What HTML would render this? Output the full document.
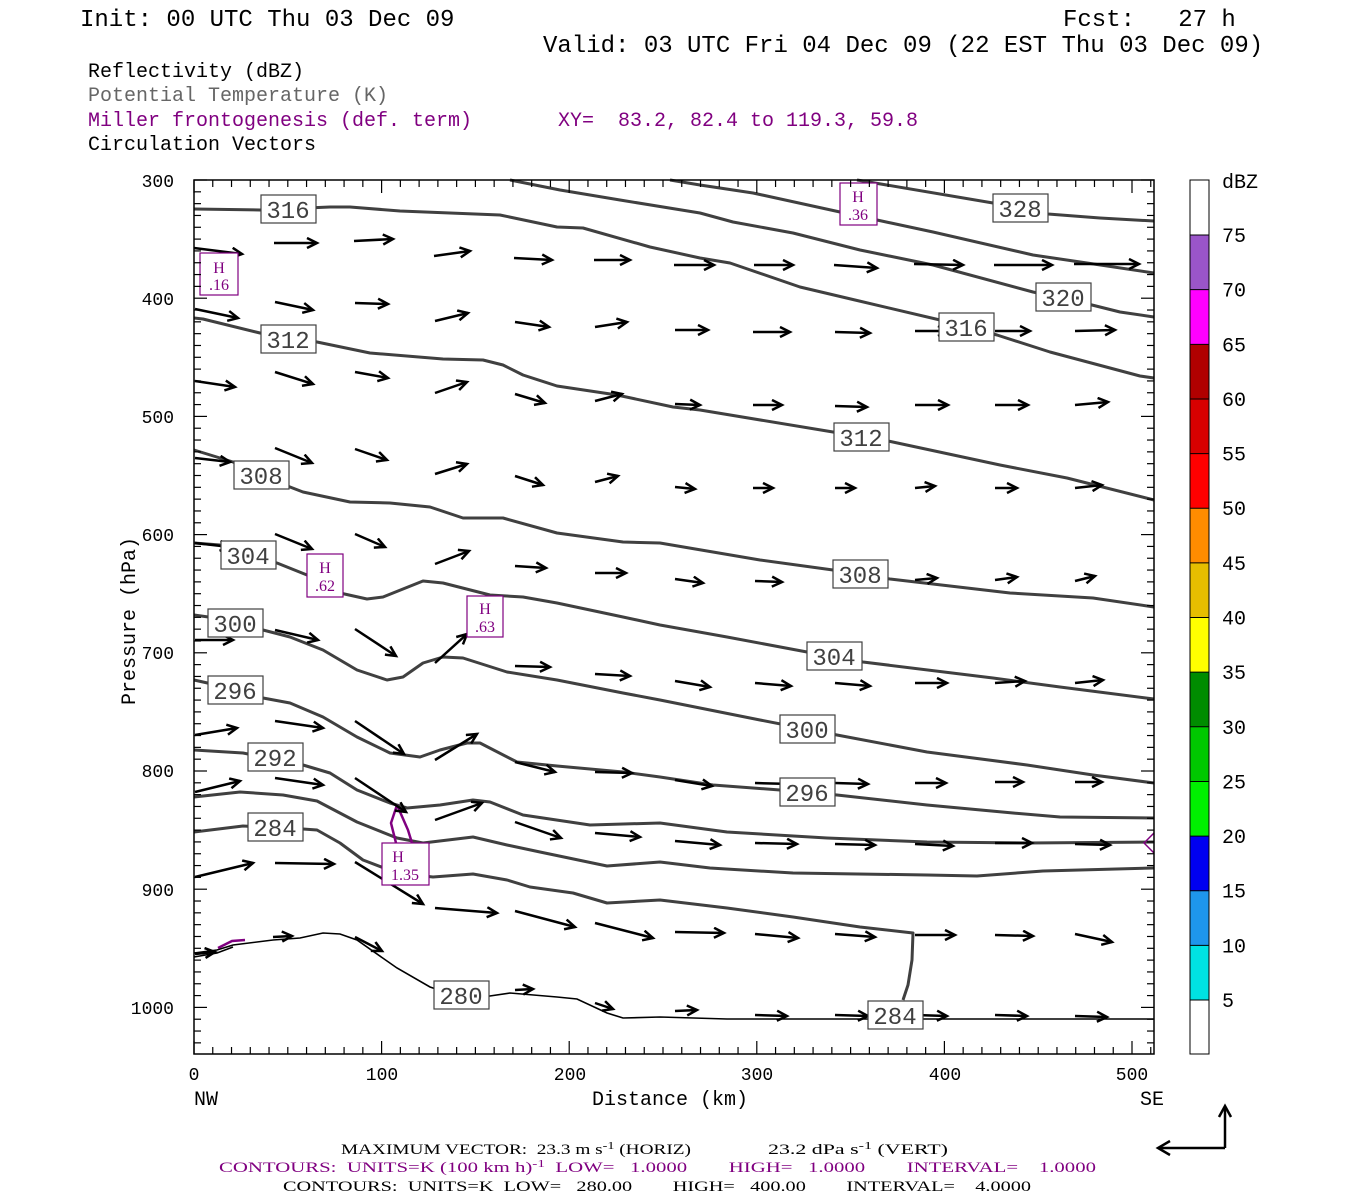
<!DOCTYPE html>
<html><head><meta charset="utf-8">
<style>
html,body{margin:0;padding:0;background:#fff;}
svg{display:block;}
text{white-space:pre;}
.mono{font-family:"Liberation Mono",monospace;}
.serif{font-family:"Liberation Serif",serif;}
</style></head>
<body>
<svg id="s" width="1350" height="1200" viewBox="0 0 1350 1200" xmlns="http://www.w3.org/2000/svg" xml:space="preserve">
<defs>
<marker id="ah" markerWidth="14" markerHeight="14" refX="11" refY="6" orient="auto" markerUnits="userSpaceOnUse">
<polyline points="1,1 11,6 1,11" fill="none" stroke="#000" stroke-width="2.5"/>
</marker>
</defs>
<rect width="1350" height="1200" fill="#fff"/>
<g class="mono" font-size="24" fill="#000">
<text x="80" y="26">Init: 00 UTC Thu 03 Dec 09</text>
<text x="1063" y="26">Fcst:   27 h</text>
<text x="543" y="52">Valid: 03 UTC Fri 04 Dec 09 (22 EST Thu 03 Dec 09)</text>
</g>
<g class="mono" font-size="20">
<text x="88" y="77" fill="#000">Reflectivity (dBZ)</text>
<text x="88" y="101" fill="#666">Potential Temperature (K)</text>
<text x="88" y="126" fill="#800080">Miller frontogenesis (def. term)</text>
<text x="558" y="126" fill="#800080">XY=  83.2, 82.4 to 119.3, 59.8</text>
<text x="88" y="150" fill="#000">Circulation Vectors</text>
</g>

<g id="contours" fill="none" stroke="#404040" stroke-width="3" stroke-linejoin="round">
<polyline points="857,180 993,203 1048,214 1100,218 1154,221"/>
<polyline points="670,180 700,185 753,193 840,212 877,220 933,232 1033,255 1087,263 1154,273"/>
<polyline points="510,180 560,190 620,200 700,213 733,222 793,233 860,250 933,265 1033,292 1092,305 1120,312 1154,317"/>
<polyline points="194,209 260,210 330,207 350,207 400,211 450,213 500,215 557,227 583,228 650,247 700,258 730,263 800,287 855,300 940,320 997,335 1050,352 1110,368 1140,376 1154,378"/>
<polyline points="194,318 203,319 260,333 317,342 370,353 443,359 483,360 503,365 523,375 557,386 617,395 673,407 700,410 833,432 888,441 1000,465 1067,478 1154,500"/>
<polyline points="194,450 233,462 290,487 303,492 350,502 390,503 430,507 463,518 503,518 557,533 623,542 660,543 760,560 833,570 890,579 1010,593 1093,598 1154,607"/>
<polyline points="194,543 220,545 277,563 307,575 340,593 367,599 383,597 423,581 443,583 490,595 523,597 557,603 623,617 660,625 727,637 807,652 863,662 993,678 1060,687 1154,699"/>
<polyline points="194,615 230,620 263,630 290,637 323,650 357,670 387,680 403,677 423,663 443,657 463,658 507,672 557,680 623,693 660,700 760,720 837,735 927,752 1027,765 1093,775 1154,783"/>
<polyline points="194,680 230,688 263,698 290,703 323,717 357,737 390,753 420,757 440,750 467,743 480,743 517,762 557,766 623,772 660,777 713,785 780,790 837,795 927,805 1013,813 1060,817 1154,818"/>
<polyline points="194,750 243,753 303,765 330,773 357,790 390,803 407,808 440,805 473,800 490,802 523,815 590,825 660,823 727,832 827,838 927,842 1027,843 1154,842"/>
<polyline points="194,797 240,792 283,795 317,801 357,822 397,838 423,843 473,837 507,845 540,852 607,866 660,862 710,868 793,873 927,875 977,876 1043,871 1154,868"/>
<polyline points="194,832 243,826 303,829 317,830 340,843 363,860 397,873 433,877 473,874 507,880 530,887 573,893 607,903 660,900 727,908 793,917 860,927 913,933 912,960 908,985 903,1000"/>
</g>
<g fill="none" stroke="#000" stroke-width="1.6">
<polyline points="194,953 217,950 233,945 273,940 300,938 323,933 340,934 357,940 397,968 430,987 460,997 483,997 510,993 557,997 577,999 607,1013 623,1018 660,1017 727,1019 1154,1019"/>
<polyline points="194,957 217,953 233,947"/>
</g>
<g fill="none" stroke="#800080" stroke-width="2.5">
<polyline points="397,805 391,823 396,843"/>
<polyline points="397,805 408,830 412,843"/>
<polyline points="218,948 232,941 245,940"/>
<polyline points="1154,833 1144,843 1154,853" stroke-width="1.5"/>
</g>

<g id="arrows" fill="none" stroke="#000" stroke-width="2.5" marker-end="url(#ah)"></g>

<g id="labels" class="mono" font-size="24" fill="#404040"></g>
<g class="serif" fill="#800080" stroke="none">
<rect x="200" y="253" width="38" height="42" fill="#fff" stroke="#800080" stroke-width="1.2"/>
<text x="219" y="273" font-size="16" text-anchor="middle">H</text><text x="219" y="290" font-size="16" text-anchor="middle">.16</text>
<rect x="840" y="183" width="37" height="42" fill="#fff" stroke="#800080" stroke-width="1.2"/>
<text x="858" y="202" font-size="16" text-anchor="middle">H</text><text x="858" y="220" font-size="16" text-anchor="middle">.36</text>
<rect x="307" y="554" width="36" height="43" fill="#fff" stroke="#800080" stroke-width="1.2"/>
<text x="325" y="573" font-size="16" text-anchor="middle">H</text><text x="325" y="591" font-size="16" text-anchor="middle">.62</text>
<rect x="467" y="596" width="36" height="41" fill="#fff" stroke="#800080" stroke-width="1.2"/>
<text x="485" y="614" font-size="16" text-anchor="middle">H</text><text x="485" y="632" font-size="16" text-anchor="middle">.63</text>
<rect x="382" y="843" width="47" height="42" fill="#fff" stroke="#800080" stroke-width="1.2"/>
<text x="398" y="862" font-size="16" text-anchor="middle">H</text><text x="405" y="880" font-size="16" text-anchor="middle">1.35</text>
</g>

<rect x="194" y="180" width="960" height="874" fill="none" stroke="#000" stroke-width="1.5"/>
<g id="ticks" stroke="#000" stroke-width="1.2"></g>
<g class="mono" font-size="18" fill="#000" text-anchor="end">
<text x="174" y="187">300</text><text x="174" y="305">400</text><text x="174" y="423">500</text>
<text x="174" y="541">600</text><text x="174" y="659">700</text><text x="174" y="777">800</text>
<text x="174" y="896">900</text><text x="174" y="1014">1000</text>
</g>
<g class="mono" font-size="18" fill="#000" text-anchor="middle">
<text x="194" y="1080">0</text><text x="382" y="1080">100</text><text x="570" y="1080">200</text>
<text x="757" y="1080">300</text><text x="945" y="1080">400</text><text x="1132" y="1080">500</text>
</g>
<g class="mono" font-size="20" fill="#000">
<text x="194" y="1105">NW</text><text x="1140" y="1105">SE</text>
<text x="592" y="1105">Distance (km)</text>
<text transform="translate(135,705) rotate(-90)">Pressure (hPa)</text>
</g>

<g id="cbar"></g>
<g class="mono" font-size="20" fill="#000" id="cblab"><text x="1222" y="188">dBZ</text></g>

<g fill="none" stroke="#000" stroke-width="2.5">
<polyline points="1225,1148 1225,1107"/><polyline points="1219,1117 1225,1106 1231,1117"/>
<polyline points="1225,1148 1158,1148"/><polyline points="1170,1141 1158,1148 1170,1155"/>
</g>

<g class="serif" font-size="15">
<text x="341" y="1154" fill="#000" textLength="350" lengthAdjust="spacingAndGlyphs">MAXIMUM VECTOR:  23.3 m s<tspan dy="-5" font-size="11">-1</tspan><tspan dy="5"> (HORIZ)</tspan></text>
<text x="768" y="1154" fill="#000" textLength="180" lengthAdjust="spacingAndGlyphs">23.2 dPa s<tspan dy="-5" font-size="11">-1</tspan><tspan dy="5"> (VERT)</tspan></text>
<text x="219" y="1172" fill="#800080" textLength="877" lengthAdjust="spacingAndGlyphs">CONTOURS:  UNITS=K (100 km h)<tspan dy="-5" font-size="11">-1</tspan><tspan dy="5">  LOW=   1.0000        HIGH=   1.0000        INTERVAL=    1.0000</tspan></text>
<text x="283" y="1191" fill="#000" textLength="748" lengthAdjust="spacingAndGlyphs">CONTOURS:  UNITS=K  LOW=   280.00        HIGH=   400.00        INTERVAL=    4.0000</text>
</g>
</svg>
<script>
var NS="http://www.w3.org/2000/svg";
function el(p,t,a,txt){var e=document.createElementNS(NS,t);for(var k in a)e.setAttribute(k,a[k]);if(txt!=null)e.textContent=txt;p.appendChild(e);return e;}
var A=[
[194,248,242,254],[274,243,317,243],[354,241,393,239],[434,256,470,251],[514,258,552,260],[594,260,630,260],[674,265,714,265],[754,265,793,265],[834,265,877,268],[914,264,963,265],[994,265,1052,265],[1074,264,1139,264],
[195,309,238,318],[275,302,313,310],[355,303,388,304],[435,321,468,313],[515,322,549,327],[595,327,627,322],[675,330,708,330],[753,332,790,332],[835,332,870,333],[915,331,948,331],[995,331,1030,331],[1075,331,1115,330],
[195,381,235,387],[275,372,313,384],[355,372,388,378],[435,393,467,382],[515,394,545,403],[595,401,622,394],[675,404,700,405],[753,405,782,405],[835,406,867,407],[915,405,948,405],[995,405,1028,405],[1075,405,1108,402],
[195,458,230,462],[275,448,312,463],[355,449,387,460],[435,474,467,464],[515,476,543,485],[595,482,618,476],[675,487,695,489],[753,488,773,488],[835,488,855,488],[915,488,935,486],[995,488,1017,488],[1075,488,1102,485],
[195,543,230,547],[275,534,312,549],[355,534,385,547],[435,564,469,551],[515,566,546,568],[595,573,626,573],[675,579,703,583],[755,581,782,582],[835,580,860,581],[915,580,937,578],[995,580,1017,577],[1075,581,1095,576],
[195,640,233,640],[275,630,318,640],[355,629,396,656],[435,663,467,634],[515,666,550,667],[595,674,630,676],[675,681,710,687],[755,683,791,686],[835,683,870,686],[915,683,947,683],[995,683,1025,681],[1075,683,1103,680],
[195,735,237,728],[275,721,323,728],[355,721,404,754],[435,760,477,734],[515,762,555,772],[595,772,632,773],[675,780,712,786],[755,783,792,784],[835,783,868,784],[915,783,946,783],[995,782,1023,782],[1075,782,1102,782],
[195,792,240,781],[275,778,323,785],[355,778,406,812],[435,820,482,803],[515,822,561,838],[595,833,640,837],[675,841,720,845],[755,843,797,844],[835,844,875,845],[915,844,953,846],[995,843,1032,843],[1075,844,1110,845],
[195,877,253,863],[275,863,334,864],[355,862,423,904],[435,908,497,913],[515,911,575,927],[595,923,653,938],[675,932,724,933],[755,934,798,938],[835,934,875,937],[915,935,955,935],[995,935,1033,936],[1075,934,1112,942],
[195,954,215,952],[273,937,292,936],[355,937,382,951],[515,990,533,989],[595,1003,613,1009],[675,1011,697,1010],[755,1015,787,1016],[835,1015,868,1016],[915,1015,947,1016],[995,1015,1027,1016],[1075,1016,1107,1017]];
var g=document.getElementById('arrows');
A.forEach(function(a){el(g,'line',{x1:a[0],y1:a[1],x2:a[2],y2:a[3]});});
var L=[[288,209,'316'],[288,339,'312'],[261,475,'308'],[248,555,'304'],[235,623,'300'],[235,690,'296'],[275,757,'292'],[275,827,'284'],[461,995,'280'],[1020,208,'328'],[1063,297,'320'],[966,327,'316'],[861,437,'312'],[860,574,'308'],[834,656,'304'],[807,729,'300'],[807,792,'296'],[895,1015,'284']];
var lg=document.getElementById('labels');
L.forEach(function(l){el(lg,'rect',{x:l[0]-27,y:l[1]-14,width:55,height:28,fill:'#fff',stroke:'#404040','stroke-width':1.2});
 el(lg,'text',{x:l[0],y:l[1]+9,'text-anchor':'middle'},l[2]);});
var t=document.getElementById('ticks');
for(var p=300;p<=1040;p+=10){var y=180+(p-300)*1.182;if(y>1054)break;var len=(p%100==0)?13:7;
 el(t,'line',{x1:194,y1:y,x2:194+len,y2:y});el(t,'line',{x1:1154,y1:y,x2:1154-len,y2:y});}
for(var d=0;d<=510;d+=10){var x=194+d*1.876;var len=(d%100==0)?13:7;
 el(t,'line',{x1:x,y1:1054,x2:x,y2:1054-len});el(t,'line',{x1:x,y1:180,x2:x,y2:180+len});}
var cb=document.getElementById('cbar'),cl=document.getElementById('cblab');
var cols=['#00e3e3','#1e96ec','#0000f0','#00f000','#00c800','#008c00','#ffff00','#e6be00','#ff8c00','#ff0000','#d80000','#b00000','#ff00ff','#9a55c9'];
var h=54.64;
el(cb,'rect',{x:1190,y:180,width:19,height:874,fill:'#fff',stroke:'#000','stroke-width':1});
for(var i=0;i<14;i++){var yb=1000-i*h;el(cb,'rect',{x:1190,y:yb-h,width:19,height:h,fill:cols[i]});}
for(var i=0;i<15;i++){var yb=1000-i*h;el(cb,'line',{x1:1190,y1:yb,x2:1209,y2:yb,stroke:'#000','stroke-width':1});
 el(cl,'text',{x:1222,y:yb+7},String(5+5*i));}
el(cb,'rect',{x:1190,y:180,width:19,height:874,fill:'none',stroke:'#000','stroke-width':1});
</script>
</body></html>
